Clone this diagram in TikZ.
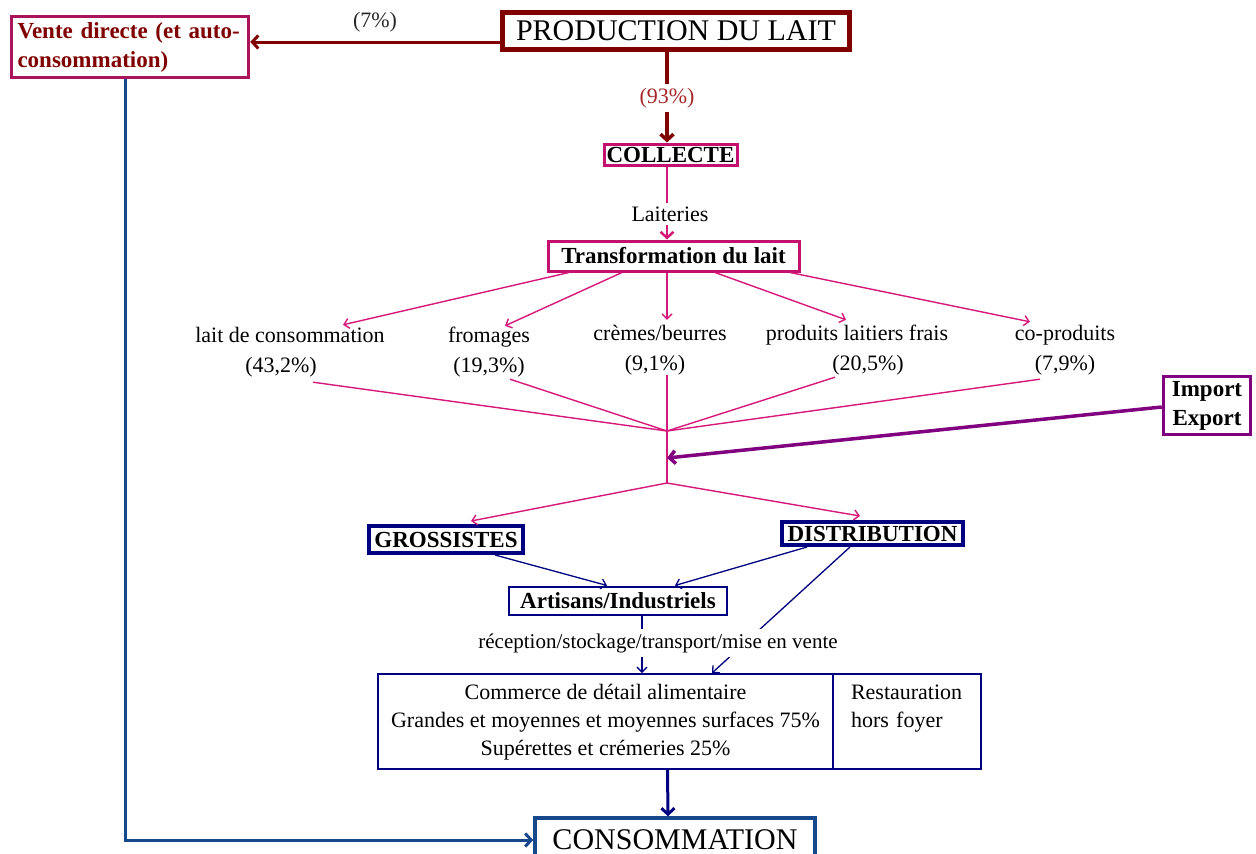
\documentclass[tikz,border=0pt]{standalone}
\usepackage{fontspec}
\setmainfont{Liberation Serif}
\usetikzlibrary{arrows.meta}

\definecolor{prodred}{RGB}{128,0,0}
\definecolor{ventecrim}{RGB}{170,20,90}
\definecolor{rose}{RGB}{214,24,122}
\definecolor{roseframe}{RGB}{196,16,110}
\definecolor{cnavy}{RGB}{0,0,128}
\definecolor{steel}{RGB}{24,72,140}
\definecolor{cpurple}{RGB}{128,0,128}
\definecolor{pctred}{RGB}{165,40,40}
\definecolor{graytxt}{RGB}{40,40,40}

\tikzset{
  reg/.style={font=\fontsize{22}{30}\selectfont},
  regc/.style={font=\fontsize{22}{28}\selectfont},
  bld/.style={font=\fontsize{23}{29}\selectfont\bfseries},
  big/.style={font=\fontsize{30}{36}\selectfont},
  box/.style={draw, rectangle, inner sep=0pt, align=center},
  lbl/.style={reg, inner sep=0pt, align=center},
  cut/.style={fill=white, inner xsep=2pt, inner ysep=4pt},
  barb/.style={-{Straight Barb[length=6pt,width=13pt]}},
  thinbarb/.style={-{Straight Barb[length=5pt,width=10pt]}},
  fan/.style={draw=rose, line width=1.4pt},
  feed/.style={draw=cnavy, line width=1.3pt},
}

\begin{document}
\begin{tikzpicture}[x=1pt,y=-1pt]
\clip (0,0) rectangle (1256,854);
\fill[white] (0,0) rectangle (1256,854);

% --- boxes -------------------------------------------------------------
\node[box, draw=prodred, line width=5pt, minimum width=347pt, minimum height=37pt, big]
  (prod) at (676,31) {PRODUCTION DU LAIT};
\node[box, draw=ventecrim, line width=3.5pt, minimum width=237pt, minimum height=61pt,
  text width=225pt, align=left, text=prodred, bld]
  (vente) at (130,47) {\strut Vente directe (et auto-\\\strut consommation)};
\node[box, draw=roseframe, line width=3pt, minimum width=133pt, minimum height=21pt, bld]
  (coll) at (670.5,154.5) {COLLECTE};
\node[box, draw=roseframe, line width=3pt, minimum width=251pt, minimum height=30pt, bld]
  (transf) at (673.5,256) {Transformation du lait};

% products
\node[lbl] (lait) at (290,351) {\strut lait de consommation\\\strut\hspace*{-18pt}(43,2\%)};
\node[lbl] (from) at (489,351) {\strut fromages\\\strut(19,3\%)};
\node[lbl] (creme) at (660,349) {\strut crèmes/beurres\\\strut\hspace*{-10pt}(9,1\%)};
\node[lbl] (plf) at (857,349) {\strut produits laitiers frais\\\strut\hspace*{22pt}(20,5\%)};
\node[lbl] (cop) at (1065,349) {\strut co-produits\\\strut(7,9\%)};

\node[box, draw=cpurple, line width=3.5pt, minimum width=87pt, minimum height=56pt, bld]
  (impexp) at (1207,405.5) {\strut Import\\\strut Export};

\node[box, draw=cnavy, line width=4pt, minimum width=154pt, minimum height=27pt, bld]
  (gross) at (446,539.5) {GROSSISTES};
\node[box, draw=cnavy, line width=4pt, minimum width=181pt, minimum height=23pt, bld]
  (distrib) at (872.5,533.5) {DISTRIBUTION};
\node[box, draw=cnavy, line width=2pt, minimum width=218pt, minimum height=28pt, bld]
  (art) at (618,600.5) {Artisans/Industriels};

\node[box, draw=cnavy, line width=2pt, minimum width=455pt, minimum height=95pt, regc]
  (comm) at (605.5,721.5)
  {\strut Commerce de détail alimentaire\\
   \strut Grandes et moyennes et moyennes surfaces 75\%\\
   \strut Supérettes et crémeries 25\%};
\node[box, draw=cnavy, line width=2pt, minimum width=148pt, minimum height=95pt, regc,
  text width=112pt, align=left]
  (resto) at (907,721.5) {\strut Restauration\\\strut hors foyer\\\strut};

\node[box, draw=steel, line width=3.5pt, minimum width=280pt, minimum height=44pt, big]
  (conso) at (675,840) {CONSOMMATION};

% --- junction points ---------------------------------------------------
\coordinate (conv) at (667,431);
\coordinate (split) at (667,483);
\coordinate (impin) at (667,458);

% --- connectors --------------------------------------------------------
\draw[prodred, line width=3pt, barb] ([yshift=-11pt]prod.west) -- ([yshift=5pt]vente.east);
\draw[prodred, line width=3.5pt, barb] ([xshift=-9pt]prod.south) -- ([xshift=-3.5pt]coll.north);
\draw[rose, line width=2.5pt, barb] ([xshift=-3.5pt]coll.south) -- ([xshift=-6.5pt]transf.north);

\draw[fan, thinbarb] ([xshift=-104.5pt]transf.south) -- ([xshift=53pt,yshift=-4pt]lait.north);
\draw[fan, thinbarb] ([xshift=-51.5pt]transf.south) -- ([xshift=16pt,yshift=-5pt]from.north);
\draw[fan, thinbarb] ([xshift=-6.5pt]transf.south) -- ([xshift=7pt,yshift=-1pt]creme.north);
\draw[fan, thinbarb] ([xshift=41.5pt]transf.south) -- ([xshift=-11pt,yshift=-1pt]plf.north);
\draw[fan, thinbarb] ([xshift=116.5pt]transf.south) -- ([xshift=-35pt,yshift=-3pt]cop.north);

\draw[fan] ([xshift=23pt,yshift=-1pt]lait.south) -- (conv);
\draw[fan] ([xshift=21pt,yshift=2pt]from.south) -- (conv);
\draw[fan] ([xshift=7pt,yshift=4pt]creme.south) -- (split);
\draw[fan] ([xshift=-22pt,yshift=2pt]plf.south) -- (conv);
\draw[fan] ([xshift=-25pt]cop.south) -- (conv);

\draw[cpurple, line width=3.5pt, barb] ([yshift=-1.5pt]impexp.west) -- (impin);

\draw[fan, thinbarb] (split) -- ([xshift=25pt,yshift=3pt]gross.north);
\draw[fan, thinbarb] (split) -- ([xshift=-12.5pt,yshift=4pt]distrib.north);

\draw[feed, thinbarb] ([xshift=49pt]gross.south) -- ([xshift=-11pt]art.north);
\draw[feed, thinbarb] ([xshift=-65.5pt]distrib.south) -- ([xshift=57pt]art.north);
\draw[feed, thinbarb] ([xshift=-22.5pt]distrib.south) -- ([xshift=106.5pt]comm.north);
\draw[feed, thinbarb] ([xshift=24pt]art.south) -- ([xshift=36.5pt]comm.north);

\draw[cnavy, line width=3pt, barb] ([xshift=62pt]comm.south) -- ([xshift=-7pt]conso.north);
\draw[steel, line width=3pt, barb] ([xshift=-5pt]vente.south) |- (conso.west);

% --- connector labels --------------------------------------------------
\node[reg, text=graytxt, inner sep=0pt] (p7) at (375,22) {(7\%)};
\node[reg, cut, text=pctred] (p93) at (667,98) {(93\%)};
\node[reg, cut] (lai) at (670,214) {Laiteries};
\node[font=\fontsize{21}{26}\selectfont, cut] (recep) at (658,643)
  {réception/stockage/transport/mise en vente};
\end{tikzpicture}
\end{document}
